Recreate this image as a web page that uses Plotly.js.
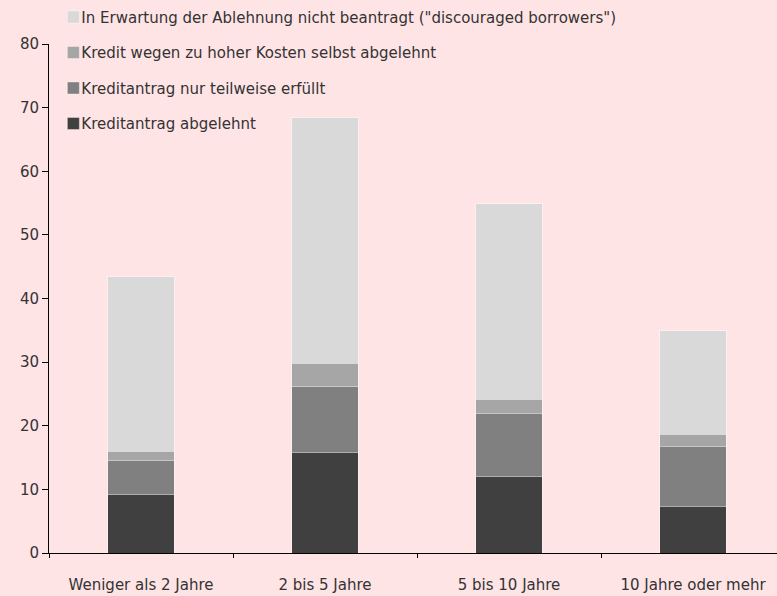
<!DOCTYPE html>
<html>
<head>
<meta charset="utf-8">
<script src="https://cdn.plot.ly/plotly-3.0.1.min.js"></script>
<style>
  html, body { margin: 0; padding: 0; background: #ffe4e6; }
  #chart { width: 777px; height: 596px; }
</style>
</head>
<body>
<div id="chart"></div>
<script>
// Firm age groups
const categories = ["Weniger als 2 Jahre", "2 bis 5 Jahre", "5 bis 10 Jahre", "10 Jahre oder mehr"];

// Shares in percent, one array per outcome (stacked bottom to top)
const abgelehnt = [9.2, 15.8, 12.1, 7.3];
const teilweise = [5.3, 10.4, 9.8, 9.4];
const selbstAbgelehnt = [1.5, 3.6, 2.3, 2.0];
const discouraged = [27.4, 38.6, 30.7, 16.2];

const seriesNames = [
  "Kreditantrag abgelehnt",
  "Kreditantrag nur teilweise erfüllt",
  "Kredit wegen zu hoher Kosten selbst abgelehnt",
  "In Erwartung der Ablehnung nicht beantragt (\"discouraged borrowers\")"
];
const seriesValues = [abgelehnt, teilweise, selbstAbgelehnt, discouraged];
const seriesColors = ["#404040", "#808080", "#a6a6a6", "#d9d9d9"];

const yTicks = [0, 10, 20, 30, 40, 50, 60, 70, 80];

// Legend lists the top segment first
const traces = seriesValues.map((vals, i) => ({
  type: "bar",
  name: seriesNames[i],
  x: categories,
  y: vals,
  legendgroup: "g" + i,
  legendrank: 100 - i,
  marker: { color: seriesColors[i], line: { color: "rgba(255,255,255,0.35)", width: 1 } },
  width: 0.36,
  hoverinfo: "x+y+name"
}));

const fontFamily = "DejaVu Sans, sans-serif";

const layout = {
  width: 777,
  height: 596,
  paper_bgcolor: "#ffe4e6",
  plot_bgcolor: "#ffe4e6",
  barmode: "stack",
  font: { family: fontFamily, size: 15, color: "#333333" },
  margin: { l: 49, r: 0, t: 43.5, b: 43 },
  showlegend: true,
  legend: {
    x: 0.006, y: 1.085, xanchor: "left", yanchor: "top",
    traceorder: "grouped",
    tracegroupgap: 13,
    bgcolor: "rgba(0,0,0,0)",
    font: { family: fontFamily, size: 15, color: "#333333" },
    itemwidth: 30
  },
  xaxis: {
    type: "category",
    range: [-0.5, 3.4565],
    showline: true, linecolor: "#000000", linewidth: 1,
    ticks: "outside", tickson: "boundaries", ticklen: 4, tickcolor: "#000000",
    showgrid: false, zeroline: false,
    ticklabelstandoff: 18,
    fixedrange: true
  },
  yaxis: {
    range: [0, 80],
    tickvals: yTicks,
    ticktext: yTicks.map(String),
    showline: true, linecolor: "#000000", linewidth: 1,
    ticks: "outside", ticklen: 6, tickcolor: "#000000",
    showgrid: false, zeroline: false,
    fixedrange: true
  }
};

Plotly.newPlot("chart", traces, layout, { displayModeBar: false, staticPlot: true }).then(gd => {
  // Pull legend labels closer to their colour squares
  gd.querySelectorAll(".legend .legendtext").forEach(t => {
    t.setAttribute("x", parseFloat(t.getAttribute("x")) - 12);
  });
});
</script>
</body>
</html>
